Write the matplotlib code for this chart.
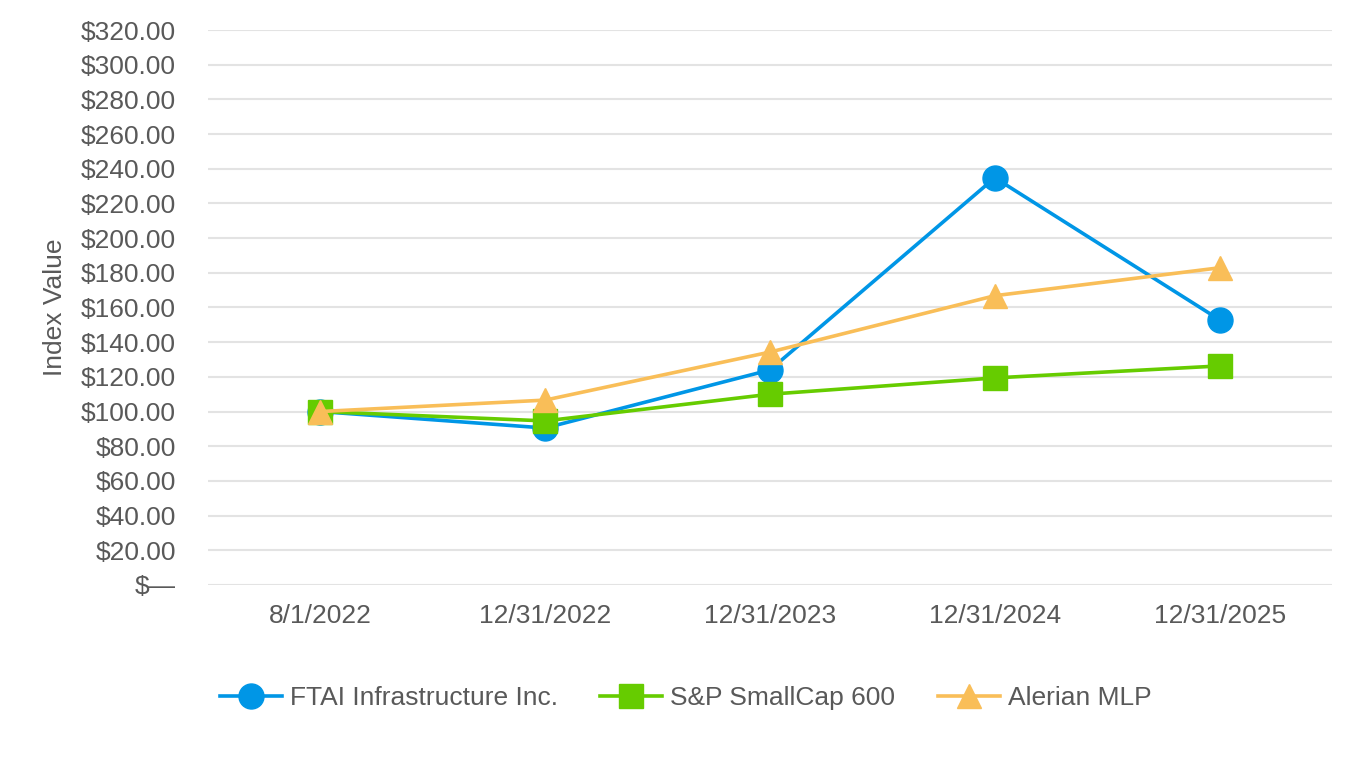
import matplotlib.pyplot as plt
from matplotlib.ticker import FuncFormatter
import numpy as np

plt.rcParams['font.family'] = ['Liberation Sans', 'DejaVu Sans']

dates = ["8/1/2022", "12/31/2022", "12/31/2023", "12/31/2024", "12/31/2025"]
ftai = [100.0, 90.5, 124.0, 234.8, 152.9]
sp600 = [100.0, 94.6, 110.0, 119.4, 126.3]
alerian = [100.0, 106.6, 134.3, 166.8, 182.9]

blue = '#0096E6'
green = '#66CC00'
gold = '#F9BE58'
grey = '#595959'

x = np.arange(len(dates))

fig = plt.figure(figsize=(13.62, 7.6), dpi=100)
ax = fig.add_axes([0.1527, 0.2303, 0.8253, 0.7302])

ax.plot(x, ftai, color=blue, lw=2.6, marker='o', ms=18, label='FTAI Infrastructure Inc.', clip_on=False, zorder=3)
ax.plot(x, sp600, color=green, lw=2.6, marker='s', ms=17, label='S&P SmallCap 600', clip_on=False, zorder=4)
ax.plot(x, alerian, color=gold, lw=2.6, marker='^', ms=17.5, label='Alerian MLP', clip_on=False, zorder=5)

ax.set_xlim(-0.5, 4.5)
ax.set_ylim(0, 320)
ax.set_yticks(np.arange(0, 321, 20))
ax.yaxis.set_major_formatter(FuncFormatter(lambda v, p: '$\u2014' if v == 0 else f'${v:,.2f}'))
ax.set_xticks(x)
ax.set_xticklabels(dates)
ax.grid(axis='y', color='#E3E3E3', lw=1.5)
ax.set_axisbelow(True)
for s in ax.spines.values():
    s.set_visible(False)
ax.tick_params(axis='both', length=0, labelsize=19, labelcolor=grey)
ax.tick_params(axis='y', pad=23)
ax.tick_params(axis='x', pad=14)
ax.set_ylabel('Index Value', fontsize=19, color=grey, labelpad=10)

ax.legend(loc='upper center', bbox_to_anchor=(0.425, -0.14), ncol=3, frameon=False,
          fontsize=19, labelcolor=grey, handlelength=2.35, handletextpad=0.3,
          columnspacing=1.6, markerscale=1.0)

fig.savefig('out.png', dpi=100)
